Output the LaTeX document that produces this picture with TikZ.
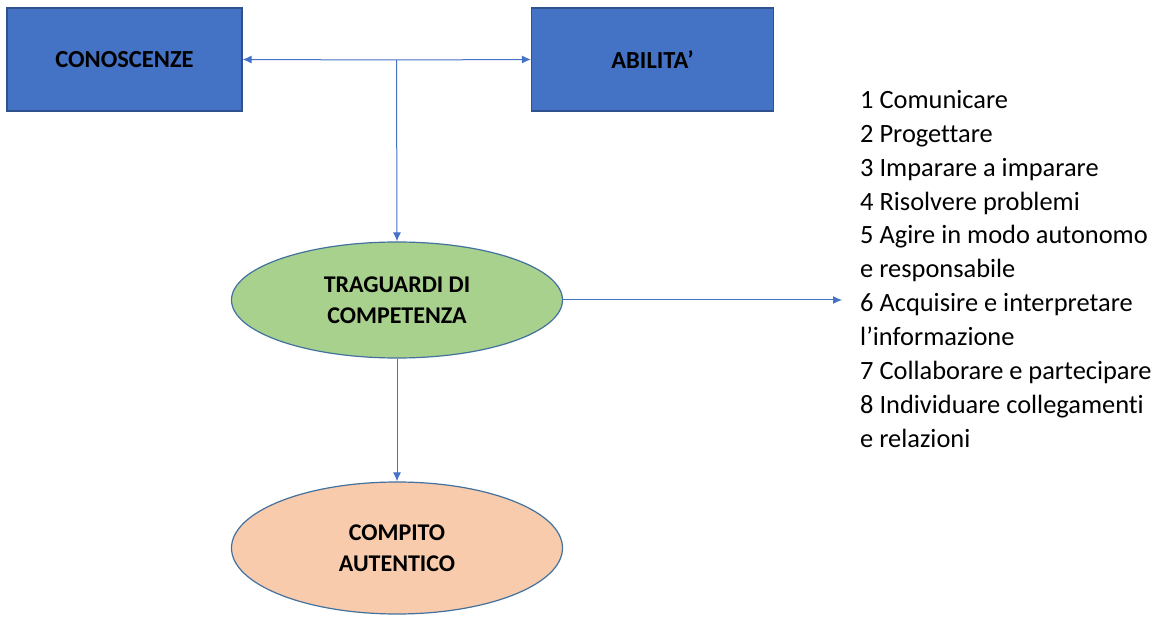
\documentclass[tikz,border=0pt]{standalone}
\usepackage{fontspec}
\setmainfont[Ligatures=NoCommon]{Carlito}
\usetikzlibrary{shapes.geometric,arrows.meta}
\definecolor{boxblue}{HTML}{4472C4}
\definecolor{boxedge}{HTML}{2F528F}
\definecolor{ellgreen}{HTML}{A9D18E}
\definecolor{ellorange}{HTML}{F8CBAD}
\definecolor{elledge}{HTML}{41719C}
\definecolor{linkblue}{HTML}{4472C4}
\tikzset{
  bluebox/.style={draw=boxedge, line width=1.2pt, fill=boxblue, minimum width=235pt, minimum height=103pt, inner sep=0pt,
    font=\fontsize{24.5}{29}\selectfont\bfseries, text=black},
  ellnode/.style={ellipse, draw=elledge, line width=1.2pt, inner sep=0pt, align=center,
    font=\fontsize{24}{31}\selectfont\bfseries, text=black},
  link/.style={draw=linkblue, line width=1pt, -{Latex[length=9pt,width=8pt]}},
  listtext/.style={anchor=north west, align=left, inner sep=0pt, font=\fontsize{26.4}{33.9}\selectfont}
}
\begin{document}
\begin{tikzpicture}[x=1pt,y=-1pt]
\useasboundingbox (0,0) rectangle (1174,617);
\node[bluebox] (cono) at (124.5,59.5) {CONOSCENZE};
\node[bluebox, minimum width=242pt] (abil) at (652.5,59.5) {ABILITA’};
\node[ellnode, fill=ellgreen, minimum width=331pt, minimum height=116pt] (trag) at (397,300) {TRAGUARDI DI\\COMPETENZA};
\node[ellnode, fill=ellorange, minimum width=331pt, minimum height=132pt] (comp) at (397,548) {COMPITO\\AUTENTICO};
\node[listtext] (list) at (860,90) {1 Comunicare\\2 Progettare\\3 Imparare a imparare\\4 Risolvere problemi\\5 Agire in modo autonomo\\e responsabile\\6 Acquisire e interpretare\\l’informazione\\7 Collaborare e partecipare\\8 Individuare collegamenti\\e relazioni};
\coordinate (fork) at (396.5,60);
\coordinate (listend) at (842,300);
\draw[link] (fork) -- (cono.east);
\draw[link] (fork) -- (abil.west);
\draw[link] (fork) -- (trag.north);
\draw[link] (trag.south) -- (comp.north);
\draw[link] (trag.east) -- (listend);
\end{tikzpicture}
\end{document}
